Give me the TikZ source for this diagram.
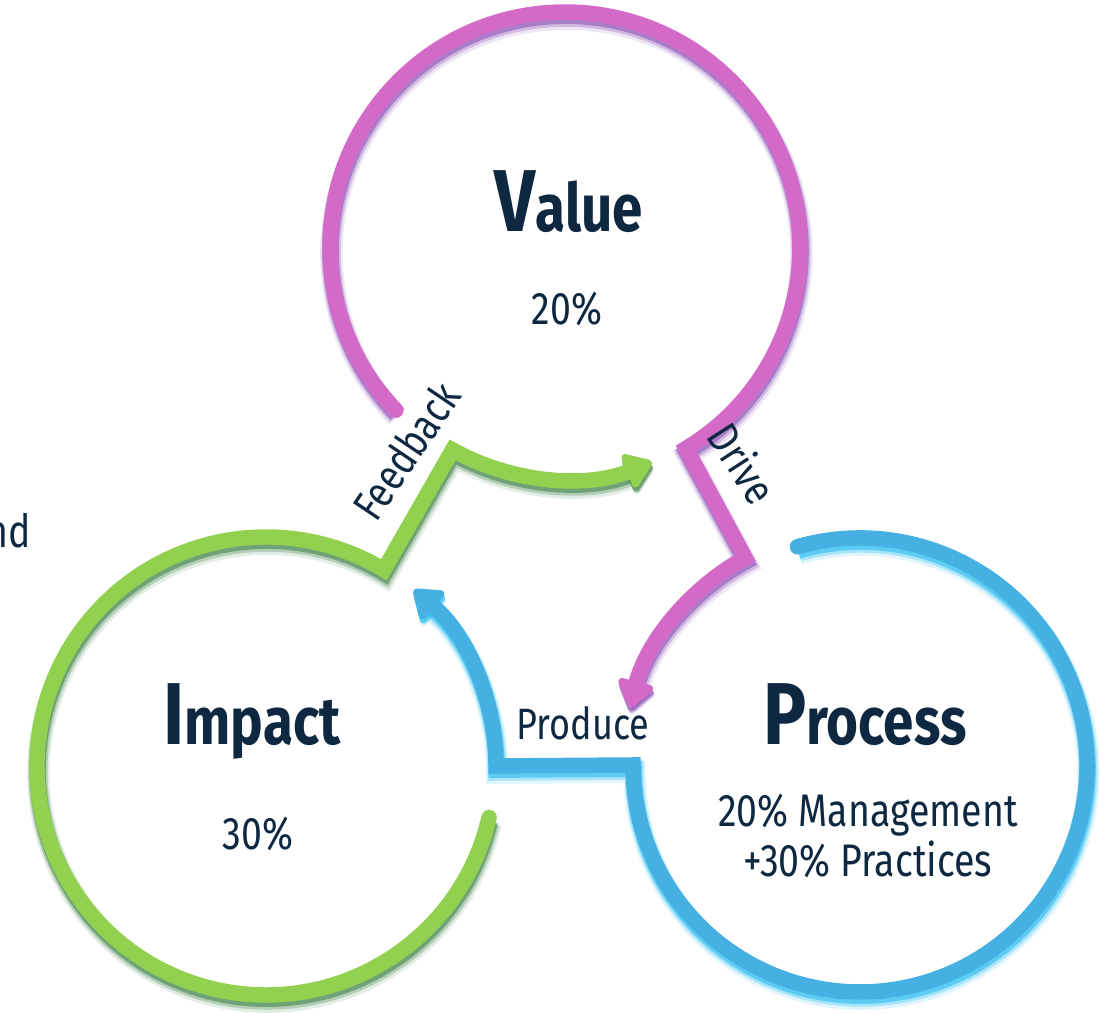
\documentclass[tikz,border=0pt]{standalone}
\usepackage{fontspec}
\setmainfont{Fira Sans}[FakeStretch=0.82]
\usetikzlibrary{arrows.meta}

\definecolor{ink}{HTML}{0E2841}
\definecolor{leafgreen}{HTML}{92D050}
\definecolor{leafshadow}{HTML}{1E6E28}
\definecolor{orchid}{HTML}{D46AC8}
\definecolor{orchidshadow}{HTML}{7832AA}
\definecolor{sky}{HTML}{45B0E1}
\definecolor{skyshadow}{HTML}{00B0F0}

\newcommand{\bigfirst}[2]{{\fontsize{25}{25}\selectfont\bfseries #1}{\fontsize{19}{19}\selectfont\bfseries #2}}

\begin{document}
\begin{tikzpicture}[
	ring/.style={line width=4.4pt, line cap=round, draw=#1},
	glow/.style={
		preaction={draw=#1, opacity=0.12, line width=6.4pt, transform canvas={shift={(0.4pt,-1.9pt)}}},
		preaction={draw=#1, opacity=0.25, line width=5.4pt, transform canvas={shift={(0.3pt,-1.5pt)}}},
		preaction={draw=#1, opacity=0.45, line width=4.6pt, transform canvas={shift={(0.2pt,-1.1pt)}}}},
	arrowend/.style={-{Triangle[length=8.5pt,width=11.5pt,round]}},
	headtext/.style={text=ink, anchor=base},
	share/.style={text=ink, anchor=base, font=\fontsize{13}{16}\selectfont},
	linktext/.style={text=ink, font=\fontsize{12.5}{14}\selectfont}
]
	\useasboundingbox (0,0) rectangle (11.1,10.14);

	\coordinate (V) at (5.65,7.67);
	\coordinate (I) at (2.66,2.48);
	\coordinate (P) at (8.60,2.49);

	% feedback loop
	\draw[ring=leafgreen, glow=leafshadow, arrowend]
		([shift={(-13:2.29)}]I) arc[start angle=-13, end angle=-301, radius=2.29]
		-- ([shift={(241:2.32)}]V) arc[start angle=241, end angle=292, radius=2.32];

	% drive loop
	\draw[ring=orchid, glow=orchidshadow, arrowend]
		([shift={(224:2.35)}]V) arc[start angle=224, end angle=-59, radius=2.35]
		-- ([shift={(119:2.37)}]P) arc[start angle=119, end angle=166, radius=2.37];

	% produce loop
	\draw[ring=sky, glow=skyshadow, arrowend]
		([shift={(106:2.27)}]P) arc[start angle=106, end angle=-180, radius=2.27]
		-- ([shift={(0:2.30)}]I) arc[start angle=0, end angle=50, radius=2.30];

	\node[headtext] (value) at (5.69,7.82) {\bigfirst{V}{alue}};
	\node[share] (valuepct) at (5.67,6.89) {20\%};

	\node[headtext] (impact) at (2.52,2.69) {\bigfirst{I}{mpact}};
	\node[share] (impactpct) at (2.58,1.64) {30\%};

	\node[headtext] (process) at (8.65,2.69) {\bigfirst{P}{rocess}};
	\node[share] (processmgmt) at (8.68,1.87) {20\% Management};
	\node[share] (processprac) at (8.68,1.37) {+30\% Practices};

	\node[linktext, rotate=56] (feedback) at (4.06,5.63) {Feedback};
	\node[linktext, rotate=-57] (drive) at (7.43,5.51) {Drive};
	\node[linktext, anchor=base] (produce) at (5.83,2.74) {Produce};

	\node[share, anchor=base east] (cut) at (0.43,4.66) {and};
\end{tikzpicture}
\end{document}
